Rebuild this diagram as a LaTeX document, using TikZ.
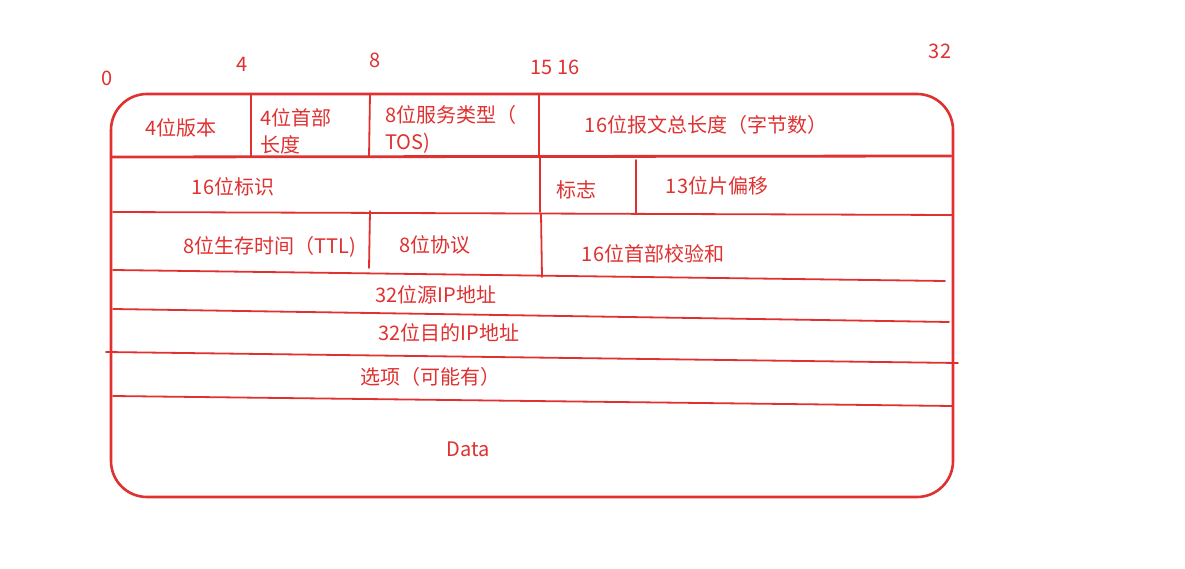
\documentclass[tikz,border=0pt]{standalone}
\usepackage{fontspec}
\setmainfont{Noto Sans CJK SC}
\definecolor{exred}{HTML}{E03131}
\begin{document}
\begin{tikzpicture}[x=1pt,y=-1pt,
  lbl/.style={text=exred,font=\fontsize{20}{27}\selectfont,inner sep=0pt},
  frame/.style={draw=exred,line width=2.6pt,rounded corners=36pt},
  rule/.style={draw=exred,line width=1.8pt,line cap=round},
  boldrule/.style={draw=exred,line width=2.8pt,line cap=round}]
\useasboundingbox (0,0) rectangle (1185,569);
\fill[white] (0,0) rectangle (1185,569);
% outer frame
\draw[frame] (111,94) rectangle (953,497);
% horizontal rules
\draw[boldrule] (111,157) -- (951,156);
\draw[rule] (113,212) -- (953,215);
\draw[rule] (113,270) -- (945,281);
\draw[rule] (113,309) -- (949,322);
\draw[rule] (106,352) -- (958,363);
\draw[rule] (113,396) -- (953,406);
% vertical rules
\draw[rule] (251,94) -- (251,157);
\draw[rule] (370,94) -- (369,157);
\draw[boldrule] (539,94) -- (539,157);
\draw[rule] (540,157) -- (540,212);
\draw[rule] (636,160) -- (636,213);
\draw[rule] (370,211) -- (369,268);
\draw[rule] (541,214) -- (542,277);
% bit numbers
\node[lbl] (n0) at (107,78) {0};
\node[lbl] (n4) at (242,64) {4};
\node[lbl] (n8) at (375,60) {8};
\node[lbl] (n15) at (555,67) {15 16};
\node[lbl] (n32) at (940,51) {32};
% fields
\node[lbl] (ver) at (181,128) {4位版本};
\node[lbl,anchor=west,align=left] (ihl) at (260,131) {4位首部\\长度};
\node[lbl,anchor=west,align=left] (tos) at (385,129) {8位服务类型（\\TOS)};
\node[lbl] (tot) at (706,125) {16位报文总长度（字节数）};
\node[lbl] (id) at (233,187) {16位标识};
\node[lbl] (flg) at (576,190) {标志};
\node[lbl] (off) at (717,186) {13位片偏移};
\node[lbl] (ttl) at (270,247) {8位生存时间（TTL)};
\node[lbl] (pro) at (435,245) {8位协议};
\node[lbl] (chk) at (653,254) {16位首部校验和};
\node[lbl] (src) at (436,295) {32位源IP地址};
\node[lbl] (dst) at (449,333) {32位目的IP地址};
\node[lbl] (opt) at (430,377) {选项（可能有）};
\node[lbl] (data) at (468,449) {Data};
\end{tikzpicture}
\end{document}
